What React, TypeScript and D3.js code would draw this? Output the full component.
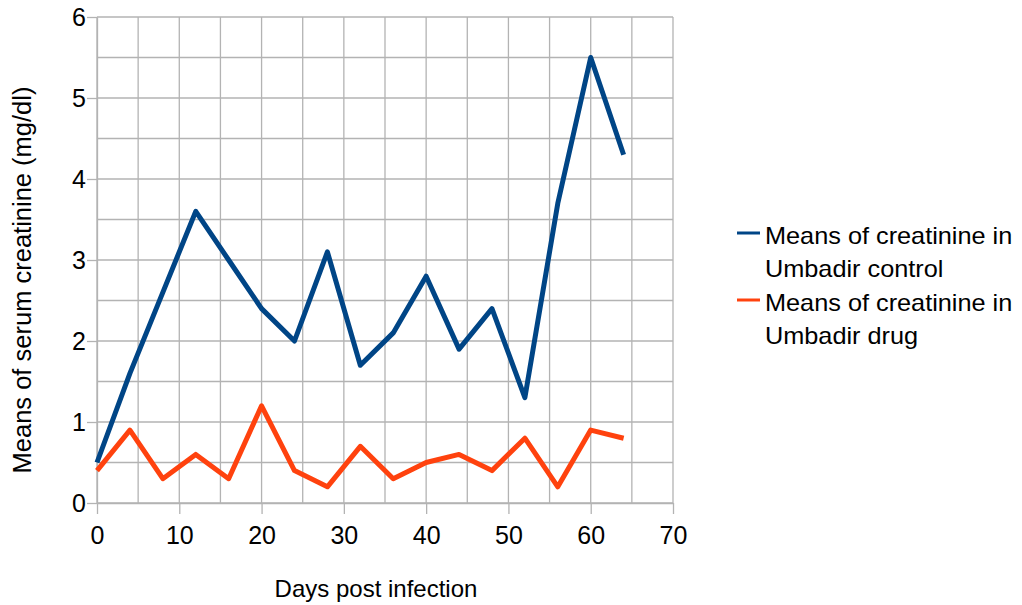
import { useEffect, useRef } from "react";
import * as d3 from "d3";

// days post infection
const days = [0, 4, 8, 12, 16, 20, 24, 28, 32, 36, 40, 44, 48, 52, 56, 60, 64];
// means of serum creatinine (mg/dl)
const controlMeans = [0.5, 1.6, 2.6, 3.6, 3.0, 2.4, 2.0, 3.1, 1.7, 2.1, 2.8, 1.9, 2.4, 1.3, 3.7, 5.5, 4.3];
const drugMeans = [0.4, 0.9, 0.3, 0.6, 0.3, 1.2, 0.4, 0.2, 0.7, 0.3, 0.5, 0.6, 0.4, 0.8, 0.2, 0.9, 0.8];
const seriesNames = [
  ["Means of creatinine in", "Umbadir control"],
  ["Means of creatinine in", "Umbadir drug"],
];
const seriesColors = ["#004586", "#ff420e"];
const xTicks = [0, 10, 20, 30, 40, 50, 60, 70];
const yTicks = [0, 1, 2, 3, 4, 5, 6];

export default function App() {
  const ref = useRef<SVGSVGElement>(null);

  useEffect(() => {
    if (!ref.current) return;
    const svg = d3.select(ref.current);
    svg.selectAll("*").remove();

    const width = 1022;
    const height = 605;
    const margin = { top: 17, right: 349, bottom: 102, left: 97 };
    const font = "'Liberation Sans', Arial, sans-serif";

    const x = d3.scaleLinear().domain([0, 70]).range([margin.left, width - margin.right]);
    const y = d3.scaleLinear().domain([0, 6]).range([height - margin.bottom, margin.top]);

    const grid = "#b3b3b3";

    // grid lines every 5 days / 0.5 mg/dl
    svg.append("g")
      .selectAll("line")
      .data(d3.range(0, 70.1, 5))
      .join("line")
      .attr("x1", d => x(d)).attr("x2", d => x(d))
      .attr("y1", y(0)).attr("y2", y(6))
      .attr("stroke", grid).attr("stroke-width", 1.3);

    svg.append("g")
      .selectAll("line")
      .data(d3.range(0, 6.01, 0.5))
      .join("line")
      .attr("x1", x(0)).attr("x2", x(70))
      .attr("y1", d => y(d)).attr("y2", d => y(d))
      .attr("stroke", grid).attr("stroke-width", 1.3);

    // axes
    const xAxis = svg.append("g")
      .attr("transform", `translate(0,${y(0)})`)
      .call(d3.axisBottom(x).tickValues(xTicks).tickSize(11).tickPadding(12).tickSizeOuter(0));
    const yAxis = svg.append("g")
      .attr("transform", `translate(${x(0)},0)`)
      .call(d3.axisLeft(y).tickValues(yTicks).tickFormat(d3.format("d")).tickSize(10).tickPadding(1).tickSizeOuter(0));

    [xAxis, yAxis].forEach(g => {
      g.select(".domain").attr("stroke", grid).attr("stroke-width", 1.3);
      g.selectAll(".tick line").attr("stroke", grid).attr("stroke-width", 1.3);
      g.selectAll("text")
        .attr("fill", "#000")
        .style("font-family", font)
        .style("font-size", "25px");
    });

    // lines
    const line = d3.line<[number, number]>()
      .x(d => x(d[0]))
      .y(d => y(d[1]));

    [controlMeans, drugMeans].forEach((vals, i) => {
      svg.append("path")
        .datum(days.map((d, j) => [d, vals[j]] as [number, number]))
        .attr("d", line)
        .attr("fill", "none")
        .attr("stroke", seriesColors[i])
        .attr("stroke-width", 5)
        .attr("stroke-linejoin", "round");
    });

    // axis titles
    svg.append("text")
      .attr("x", 376)
      .attr("y", 597)
      .attr("text-anchor", "middle")
      .style("font-family", font)
      .style("font-size", "24px")
      .text("Days post infection");

    svg.append("text")
      .attr("transform", `translate(31,280) rotate(-90)`)
      .attr("text-anchor", "middle")
      .style("font-family", font)
      .style("font-size", "25.5px")
      .text("Means of serum creatinine (mg/dl)");

    // legend
    const legend = svg.append("g");
    seriesNames.forEach((lines, i) => {
      const top = 233 + i * 67;
      legend.append("line")
        .attr("x1", 737).attr("x2", 760)
        .attr("y1", top).attr("y2", top)
        .attr("stroke", seriesColors[i]).attr("stroke-width", 3);
      lines.forEach((t, k) => {
        legend.append("text")
          .attr("transform", `translate(765,${top + 11 + k * 33}) scale(1.1,1)`)
          .style("font-family", font)
          .style("font-size", "23px")
          .text(t);
      });
    });
  }, []);

  return (
    <svg ref={ref} width={1022} height={605} style={{ position: "absolute", left: 0, top: 0, background: "#fff" }} />
  );
}
